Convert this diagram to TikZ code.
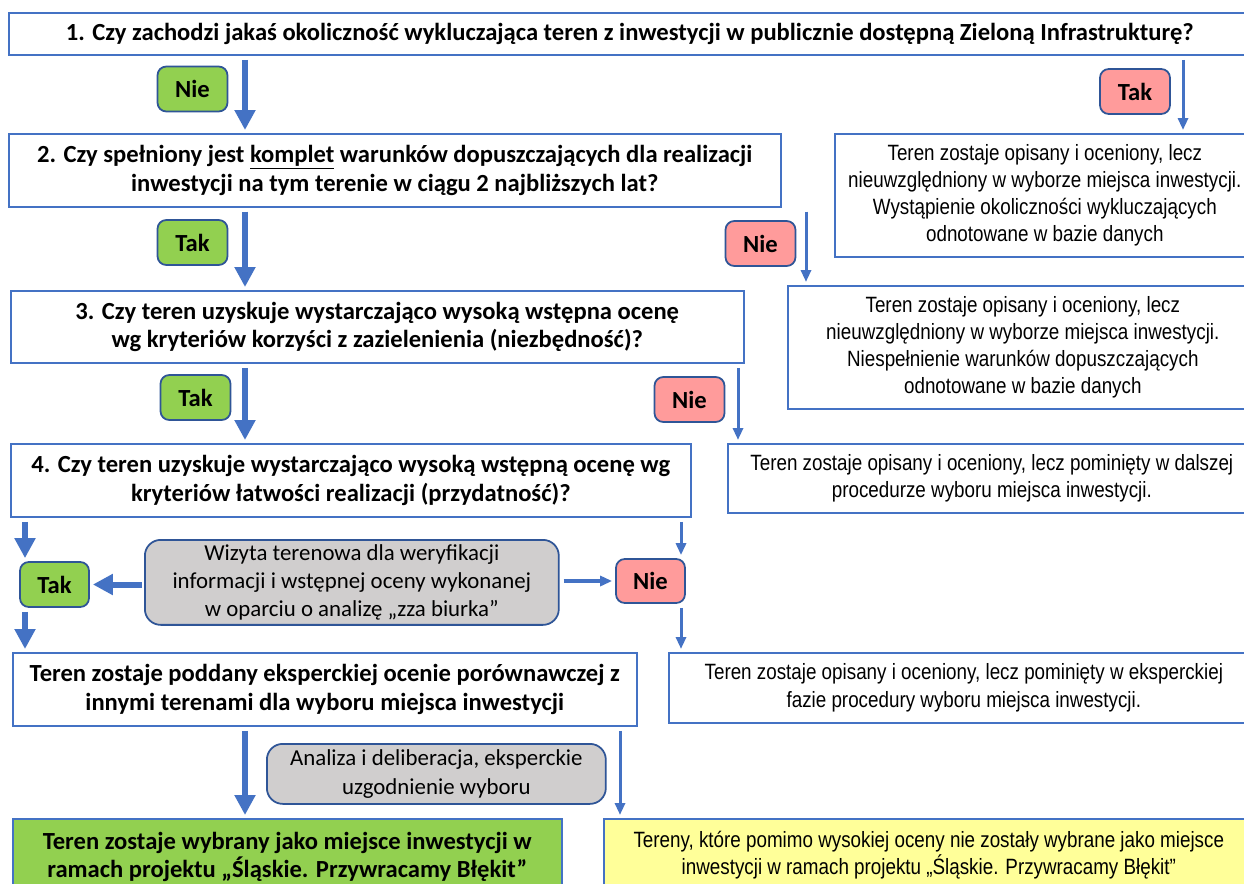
\documentclass[tikz,border=0pt]{standalone}
\usepackage{fontspec}
\setmainfont{Carlito}
\newfontfamily\narrowfont[FakeStretch=0.85]{Liberation Sans}
\usetikzlibrary{arrows.meta}
\usetikzlibrary{shapes}

\definecolor{boxblue}{HTML}{4472C4}
\definecolor{darkblue}{HTML}{2F5597}
\definecolor{okgreen}{HTML}{92D050}
\definecolor{nored}{HTML}{FF9B9B}
\definecolor{notegray}{HTML}{D0CECE}
\definecolor{noteyellow}{HTML}{FFFF99}

\begin{document}
\begin{tikzpicture}
      [x=0.02cm, y=-0.02cm,
        qbox/.style={draw=boxblue, line width=1pt, fill=white, align=center,
          anchor=north west, inner sep=0pt,
          font=\bfseries\fontsize{14}{16.4}\selectfont},
        infobox/.style={draw=boxblue, line width=1pt, fill=white, align=center,
          anchor=north west, inner sep=0pt,
          font=\narrowfont\fontsize{12.6}{15.5}\selectfont},
        notebox/.style={draw=darkblue, line width=1pt, fill=notegray, rounded corners=9pt,
          align=center, anchor=north west, inner sep=0pt,
          font=\fontsize{13}{16.2}\selectfont},
        yes/.style={draw=darkblue, line width=1pt, fill=okgreen, rounded corners=5pt,
          minimum width=1.4cm, minimum height=0.9cm, inner sep=0pt,
          font=\bfseries\fontsize{14}{16}\selectfont},
        no/.style={yes, fill=nored},
        bigarrow/.style={draw=boxblue, line width=0.12cm,
          -{Triangle[width=0.4cm,length=0.4cm]}, shorten <=0.08cm, shorten >=0.06cm},
        smallarrow/.style={draw=boxblue, line width=0.06cm,
          -{Triangle[width=0.2cm,length=0.24cm]}, shorten <=0.08cm, shorten >=0.06cm}]
  \clip (0,0) rectangle (1244,883);
  \fill[white] (0,0) rectangle (1244,883);

  % questions
  \node[qbox, minimum width=24.84cm, minimum height=0.84cm] (q1) at (8,12)
    {1. Czy zachodzi jakaś okoliczność wykluczająca teren z inwestycji w publicznie dostępną Zieloną Infrastrukturę?};
  \node[qbox, minimum width=15.44cm, minimum height=1.46cm] (q2) at (8,133)
    {2. Czy spełniony jest \underline{komplet} warunków dopuszczających dla realizacji\\
     inwestycji na tym terenie w ciągu 2 najbliższych lat?};
  \node[qbox, minimum width=14.66cm, minimum height=1.44cm] (q3) at (10,290)
    {3. Czy teren uzyskuje wystarczająco wysoką wstępna ocenę\\
     wg kryteriów korzyści z zazielenienia (niezbędność)?};
  \node[qbox, minimum width=13.6cm, minimum height=1.46cm] (q4) at (10,443)
    {4. Czy teren uzyskuje wystarczająco wysoką wstępną ocenę wg\\
     kryteriów łatwości realizacji (przydatność)?};
  \node[qbox, minimum width=12.48cm, minimum height=1.46cm] (q5) at (12,652)
    {Teren zostaje poddany eksperckiej ocenie porównawczej z\\
     innymi terenami dla wyboru miejsca inwestycji};
  \node[qbox, fill=okgreen, minimum width=10.98cm, minimum height=1.52cm] (chosen) at (12,818)
    {Teren zostaje wybrany jako miejsce inwestycji w\\
     ramach projektu „Śląskie. Przywracamy Błękit”};

  % outcomes on the right
  \node[infobox, minimum width=8.4cm, minimum height=2.46cm] (outA) at (834,133)
    {Teren zostaje opisany i oceniony, lecz\\ nieuwzględniony w wyborze miejsca inwestycji.\\
     Wystąpienie okoliczności wykluczających\\ odnotowane w bazie danych};
  \node[infobox, minimum width=9.4cm, minimum height=2.46cm] (outB) at (787,285)
    {Teren zostaje opisany i oceniony, lecz\\ nieuwzględniony w wyborze miejsca inwestycji.\\
     Niespełnienie warunków dopuszczających\\ odnotowane w bazie danych};
  \node[infobox, minimum width=10.56cm, minimum height=1.38cm] (outC) at (727,443)
    {Teren zostaje opisany i oceniony, lecz pominięty w dalszej\\
     procedurze wyboru miejsca inwestycji.};
  \node[infobox, minimum width=11.8cm, minimum height=1.4cm] (outD) at (668,652)
    {Teren zostaje opisany i oceniony, lecz pominięty w eksperckiej\\
     fazie procedury wyboru miejsca inwestycji.};
  \node[infobox, fill=noteyellow, minimum width=13cm, minimum height=1.46cm] (outE) at (603,818)
    {Tereny, które pomimo wysokiej oceny nie zostały wybrane jako miejsce\\
     inwestycji w ramach projektu „Śląskie. Przywracamy Błękit”};

  % notes
  \node[notebox, minimum width=8.28cm, minimum height=1.7cm] (visit) at (144,539)
    {Wizyta terenowa dla weryfikacji\\ informacji i wstępnej oceny wykonanej\\
     w oparciu o analizę „zza biurka”};
  \node[notebox, minimum width=6.78cm, minimum height=1.2cm] (debate) at (266,743)
    {Analiza i deliberacja, eksperckie\\ uzgodnienie wyboru};

  % answers
  \node[yes] (nie1) at (192.5,89) {Nie};
  \node[no]  (tak1) at (1135,91.5) {Tak};
  \node[yes] (tak2) at (192.5,242.5) {Tak};
  \node[no]  (nie2) at (760.5,243.5) {Nie};
  \node[yes] (tak3) at (195.5,397.5) {Tak};
  \node[no]  (nie3) at (689.5,399.5) {Nie};
  \node[yes, minimum width=1.38cm] (tak4) at (54.5,584.5) {Tak};
  \node[no, minimum width=1.38cm, minimum height=0.88cm] (nie4) at (650.5,581) {Nie};

  % arrow columns
  \coordinate (main) at (245,0);
  \coordinate (colA) at (1183,0);
  \coordinate (colB) at (806,0);
  \coordinate (colC) at (738,0);
  \coordinate (colD) at (681,0);
  \coordinate (colE) at (620,0);
  \coordinate (side) at (25,0);

  \draw[bigarrow] (q1.south -| main) -- (q2.north -| main);
  \draw[bigarrow] (q2.south -| main) -- (q3.north -| main);
  \draw[bigarrow] (q3.south -| main) -- (q4.north -| main);
  \draw[bigarrow] (q5.south -| main) -- (chosen.north -| main);
  \draw[bigarrow] (q4.south -| side) -- (tak4.north -| side);
  \draw[bigarrow] (tak4.south -| side) -- (q5.north -| side);
  \draw[bigarrow, shorten <=0.04cm] (visit.west |- tak4) -- (tak4.east);

  \draw[smallarrow] (q1.south -| colA) -- (outA.north -| colA);
  \draw[smallarrow] (q2.south -| colB) -- (outB.north -| colB);
  \draw[smallarrow] (q3.south -| colC) -- (outC.north -| colC);
  \draw[smallarrow] (q4.south -| colD) -- (nie4.north -| colD);
  \draw[smallarrow] (nie4.south -| colD) -- (outD.north -| colD);
  \draw[smallarrow] (q5.south -| colE) -- (outE.north -| colE);
  \draw[smallarrow, line width=0.08cm] (visit.east |- nie4) -- (nie4.west);
\end{tikzpicture}
\end{document}
